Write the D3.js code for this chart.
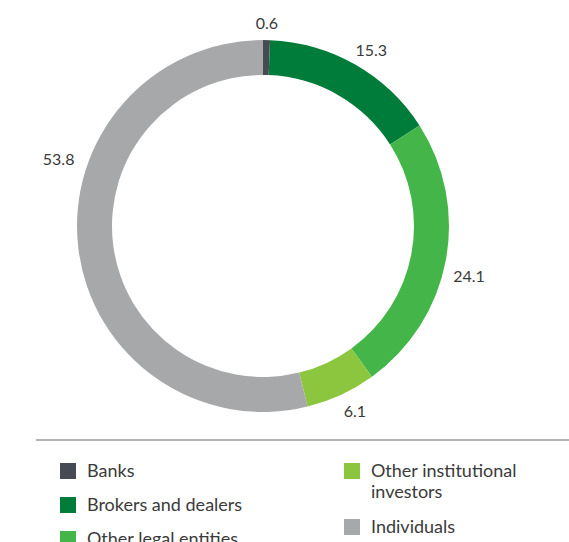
<!DOCTYPE html>
<html>
<head>
<meta charset="utf-8">
<script src="https://d3js.org/d3.v7.min.js"></script>
<style>
  body { margin: 0; background: #fff; }
  text { font-family: Lato, "Open Sans", sans-serif; fill: #3a3a3a; }
</style>
</head>
<body>
<div id="chart"></div>
<script>
// shareholder structure, %
var categories = ["Banks", "Brokers and dealers", "Other legal entities", "Other institutional investors", "Individuals"];
var values = [0.6, 15.3, 24.1, 6.1, 53.8];
var colors = ["#464a52", "#007c3a", "#44b649", "#8cc63f", "#a6a8aa"];

// label placement nudges: angle (degrees) and distance from centre
var labelShift = [0, 2, 3, -1.5, 25];
var labelRadius = [203, 206, 212, 207, 215];

var width = 569, height = 542;
var cx = 263, cy = 226, rOuter = 186, rInner = 151;

var svg = d3.select("#chart").append("svg")
  .attr("width", width)
  .attr("height", height);

var data = categories.map(function (c, i) {
  return { name: c, value: values[i], color: colors[i], shift: labelShift[i], lr: labelRadius[i] };
});

var pie = d3.pie()
  .value(function (d) { return d.value; })
  .sort(null);

var arc = d3.arc().innerRadius(rInner).outerRadius(rOuter);

var g = svg.append("g").attr("transform", "translate(" + cx + "," + cy + ")");

var arcs = pie(data);

g.selectAll("path")
  .data(arcs)
  .enter()
  .append("path")
    .attr("d", arc)
    .attr("fill", function (d) { return d.data.color; });

// value labels outside the ring
function labelAngle(d) {
  return (d.startAngle + d.endAngle) / 2 + d.data.shift * Math.PI / 180;
}
g.selectAll("text.val")
  .data(arcs)
  .enter()
  .append("text")
    .attr("class", "val")
    .attr("x", function (d) { return d.data.lr * Math.sin(labelAngle(d)); })
    .attr("y", function (d) { return -d.data.lr * Math.cos(labelAngle(d)); })
    .attr("dy", "0.35em")
    .attr("text-anchor", "middle")
    .style("font-size", "16px")
    .text(function (d) { return d.data.value.toFixed(1); });

// divider line
svg.append("line")
  .attr("x1", 36).attr("x2", width)
  .attr("y1", 440).attr("y2", 440)
  .attr("stroke", "#9a9a9a")
  .attr("stroke-width", 1.3);

// legend, two columns
var legendPos = [
  { x: 60, y: 463 },
  { x: 60, y: 497 },
  { x: 60, y: 531 },
  { x: 344, y: 463 },
  { x: 344, y: 519 }
];
var legendLines = [["Banks"], ["Brokers and dealers"], ["Other legal entities"],
  ["Other institutional", "investors"], ["Individuals"]];

var leg = svg.selectAll("g.leg")
  .data(data)
  .enter()
  .append("g")
    .attr("class", "leg")
    .attr("transform", function (d, i) { return "translate(" + legendPos[i].x + "," + legendPos[i].y + ")"; });

leg.append("rect")
  .attr("width", 16)
  .attr("height", 16)
  .attr("fill", function (d) { return d.color; });

leg.append("text")
  .attr("x", 27)
  .attr("y", 14)
  .style("font-size", "18px")
  .selectAll("tspan")
  .data(function (d, i) { return legendLines[i]; })
  .enter()
  .append("tspan")
    .attr("x", 27)
    .attr("dy", function (d, i) { return i === 0 ? 0 : 21; })
    .text(function (d) { return d; });
</script>
</body>
</html>
